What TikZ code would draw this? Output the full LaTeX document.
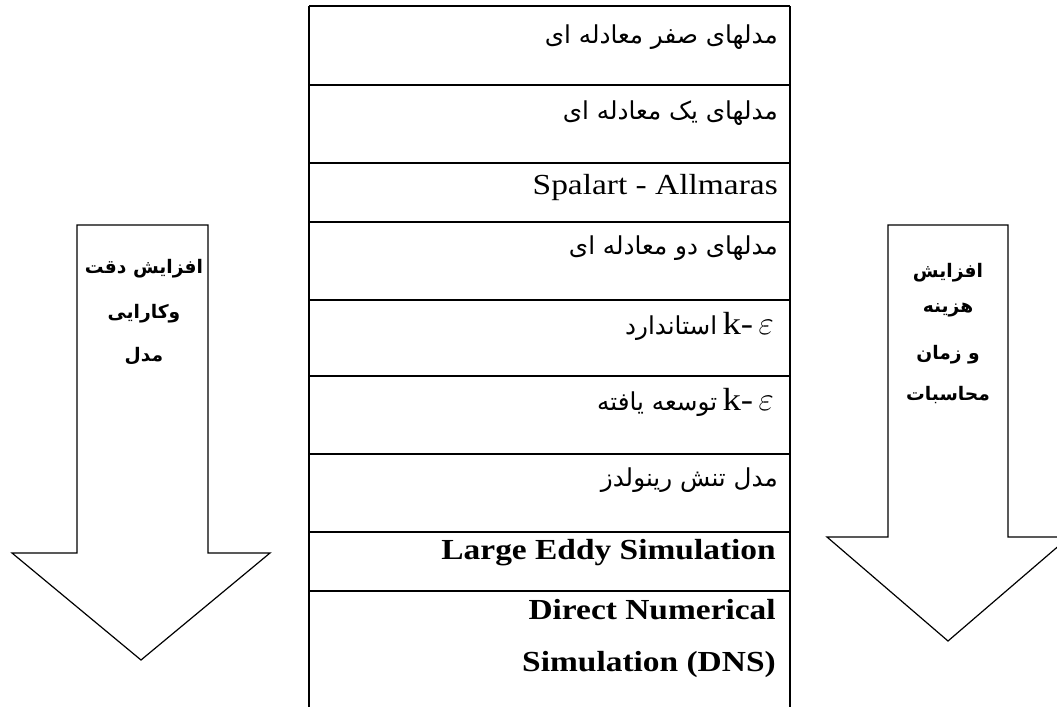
\documentclass[tikz,border=0pt]{standalone}
\usepackage{fontspec}
\setmainfont[FakeStretch=1.15]{Liberation Serif}
\newfontfamily\fa[Script=Arabic]{DejaVu Sans}
\TeXXeTstate=1
\newcommand{\fatext}{\fa\fontsize{18.5}{22}\selectfont}
\newcommand{\kepsilon}{{\fontsize{24}{28}\selectfont k-\,$\varepsilon$}}
\begin{document}
\begin{tikzpicture}[x=0.75pt,y=-0.75pt,
  frame/.style={draw=black, line width=0.9pt},
  outline/.style={draw=black, line width=0.9pt, line join=miter},
  rowtxt/.style={anchor=east, inner sep=0pt, font=\fatext},
  entxt/.style={anchor=east, inner sep=0pt, font=\fontsize{21.8}{26}\selectfont},
  enbold/.style={anchor=east, inner sep=0pt, font=\bfseries\fontsize{21.8}{26}\selectfont},
  arrlbl/.style={inner sep=0pt, font=\fa\bfseries\fontsize{14}{17}\selectfont}]
\clip (0,0) rectangle (1057,707);
\useasboundingbox (0,0) rectangle (1057,707);

% table of turbulence models
\draw[frame] (309,6) -- (790,6);
\foreach \yy in {85,163,222,300,376,454,532,591}
  \draw[frame] (309,\yy) -- (790,\yy);
\draw[frame] (309,6) -- (309,712);
\draw[frame] (790,6) -- (790,712);

\node[rowtxt] (zero) at (778,37) {\beginR مدلهای صفر معادله ای\endR};
\node[rowtxt] (one) at (778,113) {\beginR مدلهای یک معادله ای\endR};
\node[entxt] (sa) at (778,188) {Spalart - Allmaras};
\node[rowtxt] (two) at (778,248) {\beginR مدلهای دو معادله ای\endR};
\node[anchor=east, inner sep=0pt] (kestd) at (774,326)
  {{\fatext\beginR استاندارد\endR}\hspace{4pt}\kepsilon};
\node[anchor=east, inner sep=0pt] (keext) at (774,402)
  {{\fatext\beginR توسعه یافته\endR}\hspace{4pt}\kepsilon};
\node[rowtxt] (rsm) at (778,480) {\beginR مدل تنش رینولدز\endR};
\node[enbold] (les) at (776,553) {Large Eddy Simulation};
\node[enbold] (dns1) at (776,610) {Direct Numerical};
\node[enbold] (dns2) at (776,665) {Simulation (DNS)};

% accuracy arrow
\draw[outline] (77,225) -- (208,225) -- (208,553) -- (270,553) -- (141,660)
  -- (12,553) -- (77,553) -- cycle;
\node[arrlbl] (acc1) at (144,269) {\beginR افزایش دقت\endR};
\node[arrlbl] (acc2) at (144,314) {\beginR وکارایی\endR};
\node[arrlbl] (acc3) at (144,356) {\beginR مدل\endR};

% cost arrow
\draw[outline] (888,225) -- (1008,225) -- (1008,537) -- (1069,537) -- (948,641)
  -- (827,537) -- (888,537) -- cycle;
\node[arrlbl] (cost1) at (948,273) {\beginR افزایش\endR};
\node[arrlbl] (cost2) at (948,310) {\beginR هزینه\endR};
\node[arrlbl] (cost3) at (948,355) {\beginR و زمان\endR};
\node[arrlbl] (cost4) at (948,395) {\beginR محاسبات\endR};
\end{tikzpicture}
\end{document}
